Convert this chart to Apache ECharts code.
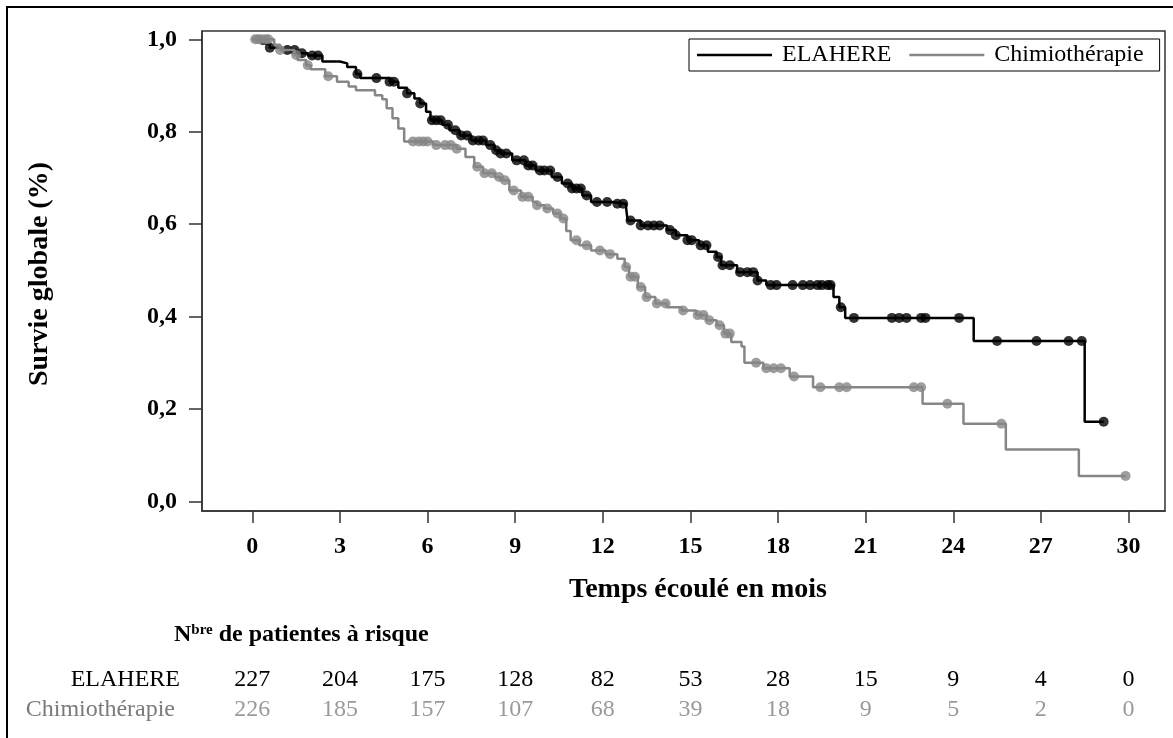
<!DOCTYPE html>
<html>
<head>
<meta charset="utf-8">
<script src="https://cdn.jsdelivr.net/npm/echarts@6/dist/echarts.min.js"></script>
<style>
  html, body { margin: 0; padding: 0; background: #fff; }
  #main { width: 1173px; height: 738px; }
</style>
</head>
<body>
<div id="main"></div>
<script>
// axes
const xTicks = [0, 3, 6, 9, 12, 15, 18, 21, 24, 27, 30]
const yTicks = [0, 0.2, 0.4, 0.6, 0.8, 1.0]

// Kaplan-Meier steps (time in months, survival)
const elahereT = [0, 0.3, 0.6, 1.0, 1.5, 1.9, 2.4, 3.0, 3.25, 3.55, 3.7, 4.7, 5.0, 5.3, 5.55, 5.75, 5.95, 6.1, 6.5, 6.75, 7.1, 7.5, 8.0, 8.3, 8.5, 8.9, 9.35, 9.7, 10.25, 10.6, 10.95, 11.3, 11.6, 12.3, 12.8, 12.85, 13.3, 14.2, 14.5, 14.9, 15.3, 15.6, 15.9, 16.05, 16.6, 17.3, 17.6, 19.9, 20.1, 20.3, 24.7, 28.5, 29.15]
const elahereS = [1.0, 0.991, 0.982, 0.977, 0.97, 0.965, 0.952, 0.948, 0.94, 0.925, 0.916, 0.908, 0.895, 0.883, 0.872, 0.861, 0.843, 0.825, 0.815, 0.803, 0.792, 0.781, 0.771, 0.76, 0.753, 0.738, 0.727, 0.716, 0.702, 0.688, 0.677, 0.662, 0.648, 0.644, 0.634, 0.608, 0.597, 0.587, 0.576, 0.565, 0.554, 0.54, 0.529, 0.511, 0.496, 0.478, 0.468, 0.442, 0.42, 0.397, 0.347, 0.172, 0.172]
const chimioT = [0, 0.75, 0.95, 1.45, 1.55, 1.85, 2.0, 2.5, 2.9, 3.3, 3.55, 4.2, 4.45, 4.6, 4.8, 5.0, 5.2, 6.2, 7.0, 7.3, 7.6, 7.9, 8.3, 8.5, 8.8, 9.2, 9.6, 9.75, 10.0, 10.3, 10.55, 10.75, 10.9, 11.2, 11.6, 12.1, 12.5, 12.75, 12.9, 13.2, 13.45, 13.8, 14.2, 14.7, 15.2, 15.55, 15.9, 16.15, 16.4, 16.75, 16.85, 17.5, 18.4, 19.2, 22.95, 24.35, 25.8, 28.3, 29.9]
const chimioS = [1.0, 0.988, 0.977, 0.966, 0.955, 0.944, 0.935, 0.92, 0.908, 0.898, 0.89, 0.879, 0.87, 0.851, 0.829, 0.807, 0.779, 0.771, 0.763, 0.745, 0.724, 0.71, 0.702, 0.695, 0.673, 0.659, 0.648, 0.641, 0.634, 0.623, 0.612, 0.585, 0.565, 0.554, 0.543, 0.535, 0.525, 0.507, 0.486, 0.464, 0.442, 0.428, 0.42, 0.413, 0.403, 0.392, 0.381, 0.363, 0.345, 0.335, 0.30, 0.288, 0.27, 0.247, 0.211, 0.168, 0.112, 0.055, 0.055]

// censored times (marks sit on the curve)
const elahereCens = [0.6, 1.2, 1.45, 1.7, 2.05, 2.25, 3.6, 4.25, 4.7, 4.85, 5.3, 5.75, 6.15, 6.3, 6.45, 6.7, 6.95, 7.15, 7.35, 7.55, 7.75, 7.9, 8.15, 8.35, 8.5, 8.7, 9.05, 9.3, 9.45, 9.6, 9.85, 10.0, 10.2, 10.45, 10.8, 10.95, 11.1, 11.25, 11.45, 11.8, 12.15, 12.5, 12.7, 12.95, 13.3, 13.55, 13.75, 13.95, 14.3, 14.5, 14.9, 15.05, 15.35, 15.55, 15.95, 16.1, 16.35, 16.7, 16.95, 17.15, 17.3, 17.75, 17.95, 18.5, 18.85, 19.1, 19.35, 19.5, 19.7, 19.8, 20.15, 20.6, 21.9, 22.15, 22.4, 22.9, 23.05, 24.2, 25.5, 26.85, 27.95, 28.4, 29.15]
const chimioCens = [0.1, 0.2, 0.3, 0.45, 0.55, 0.95, 1.5, 1.9, 2.6, 5.5, 5.7, 5.85, 6.0, 6.3, 6.6, 6.8, 7.0, 7.7, 7.95, 8.2, 8.45, 8.65, 8.95, 9.25, 9.45, 9.75, 10.1, 10.45, 10.65, 11.1, 11.45, 11.9, 12.25, 12.8, 12.95, 13.1, 13.3, 13.5, 13.85, 14.15, 14.75, 15.25, 15.45, 15.65, 16.0, 16.2, 16.35, 17.25, 17.6, 17.85, 18.1, 18.55, 19.45, 20.1, 20.35, 22.65, 22.9, 23.8, 25.65, 29.9]

// patients at risk
const riskTimes = [0, 3, 6, 9, 12, 15, 18, 21, 24, 27, 30]
const riskElahere = [227, 204, 175, 128, 82, 53, 28, 15, 9, 4, 0]
const riskChimio = [226, 185, 157, 107, 68, 39, 18, 9, 5, 2, 0]

const FONT = 'Liberation Serif'
const BLACK = '#000000'
const GREY = '#868686'

function pairs(ts, ss) {
  return ts.map((t, i) => [t, ss[i]])
}
function levelAt(ts, ss, t) {
  let v = ss[0]
  for (let i = 0; i < ts.length; i++) {
    if (ts[i] <= t) v = ss[i]
  }
  return v
}
function censMarks(cens, ts, ss) {
  return cens.map(t => [t, levelAt(ts, ss, t)])
}

const chart = echarts.init(document.getElementById('main'))

chart.setOption({
  backgroundColor: '#fff',
  animation: false,
  grid: {
    left: 202,
    top: 31,
    width: 963,
    height: 480,
    show: true,
    borderColor: '#333',
    borderWidth: 1.5
  },
  legend: {
    left: 689,
    top: 39,
    orient: 'horizontal',
    padding: [4, 16, 4, 8],
    borderColor: '#000',
    borderWidth: 1,
    backgroundColor: '#fff',
    itemWidth: 75,
    itemHeight: 2.5,
    itemGap: 18,
    textStyle: { fontFamily: FONT, fontSize: 24, color: '#000', padding: [0, 0, 0, 5], lineHeight: 24 },
    data: [
      { name: 'ELAHERE', icon: 'rect', itemStyle: { color: BLACK } },
      { name: 'Chimiothérapie', icon: 'rect', itemStyle: { color: GREY } }
    ]
  },
  xAxis: {
    type: 'value',
    min: -1.722,
    max: 31.25,
    splitLine: { show: false },
    axisLine: { show: true, onZero: false, lineStyle: { color: '#333', width: 1.5 } },
    axisTick: { show: true, customValues: xTicks, length: 12, lineStyle: { color: '#333', width: 1.5 } },
    axisLabel: {
      customValues: xTicks,
      margin: 24,
      fontFamily: FONT,
      fontSize: 24,
      fontWeight: 'bold',
      color: '#000'
    }
  },
  yAxis: {
    type: 'value',
    min: -0.021,
    max: 1.018,
    splitLine: { show: false },
    axisLine: { show: true, onZero: false, lineStyle: { color: '#333', width: 1.5 } },
    axisTick: { show: true, customValues: yTicks, length: 13, lineStyle: { color: '#333', width: 1.5 } },
    axisLabel: {
      customValues: yTicks,
      margin: 25,
      fontFamily: FONT,
      fontSize: 24,
      fontWeight: 'bold',
      color: '#000',
      formatter: v => v.toFixed(1).replace('.', ',')
    }
  },
  series: [
    {
      name: 'ELAHERE',
      type: 'line',
      step: 'end',
      showSymbol: false,
      lineStyle: { color: BLACK, width: 2.5 },
      itemStyle: { color: BLACK },
      data: pairs(elahereT, elahereS),
      z: 3
    },
    {
      name: 'ELAHERE',
      type: 'scatter',
      symbol: 'circle',
      symbolSize: 10,
      itemStyle: { color: BLACK },
      data: censMarks(elahereCens, elahereT, elahereS),
      z: 3
    },
    {
      name: 'Chimiothérapie',
      type: 'line',
      step: 'end',
      showSymbol: false,
      lineStyle: { color: GREY, width: 2.5 },
      itemStyle: { color: GREY },
      data: pairs(chimioT, chimioS),
      z: 4
    },
    {
      name: 'Chimiothérapie',
      type: 'scatter',
      symbol: 'circle',
      symbolSize: 10,
      itemStyle: { color: GREY },
      data: censMarks(chimioCens, chimioT, chimioS),
      z: 4
    }
  ]
})

// titles, risk table and page frame placed after the axes exist
const riskX = riskTimes.map(t => chart.convertToPixel({ xAxisIndex: 0 }, t))
const graphics = [
  {
    type: 'polyline',
    shape: { points: [[7, 738], [7, 7], [1173, 7]] },
    style: { stroke: '#000', lineWidth: 2, fill: null }
  },
  {
    type: 'text',
    x: 40,
    y: 274,
    rotation: Math.PI / 2,
    style: {
      text: 'Survie globale (%)',
      fontFamily: FONT, fontSize: 28, fontWeight: 'bold', fill: '#000',
      align: 'center', verticalAlign: 'middle'
    }
  },
  {
    type: 'text',
    x: 698,
    y: 590,
    style: {
      text: 'Temps écoulé en mois',
      fontFamily: FONT, fontSize: 28, fontWeight: 'bold', fill: '#000',
      align: 'center', verticalAlign: 'middle'
    }
  },
  {
    type: 'text',
    x: 174,
    y: 635,
    style: {
      text: '{n|N}{s|bre}{n| de patientes à risque}',
      verticalAlign: 'middle',
      rich: {
        n: { fontFamily: FONT, fontSize: 24, fontWeight: 'bold', fill: '#000' },
        s: { fontFamily: FONT, fontSize: 15, fontWeight: 'bold', fill: '#000', verticalAlign: 'top', padding: [0, 0, 10, 0] }
      }
    }
  },
  {
    type: 'text',
    x: 180,
    y: 680,
    style: { text: 'ELAHERE', fontFamily: FONT, fontSize: 24, fill: '#000', align: 'right', verticalAlign: 'middle' }
  },
  {
    type: 'text',
    x: 175,
    y: 710,
    style: { text: 'Chimiothérapie', fontFamily: FONT, fontSize: 24, fill: '#7a7a7a', align: 'right', verticalAlign: 'middle' }
  }
]
riskElahere.forEach((n, i) => {
  graphics.push({
    type: 'text', x: riskX[i], y: 680,
    style: { text: String(n), fontFamily: FONT, fontSize: 24, fill: '#000', align: 'center', verticalAlign: 'middle' }
  })
})
riskChimio.forEach((n, i) => {
  graphics.push({
    type: 'text', x: riskX[i], y: 710,
    style: { text: String(n), fontFamily: FONT, fontSize: 24, fill: '#9a9a9a', align: 'center', verticalAlign: 'middle' }
  })
})
chart.setOption({ graphic: graphics })

window.addEventListener('resize', () => { chart.resize() })
</script>
</body>
</html>
